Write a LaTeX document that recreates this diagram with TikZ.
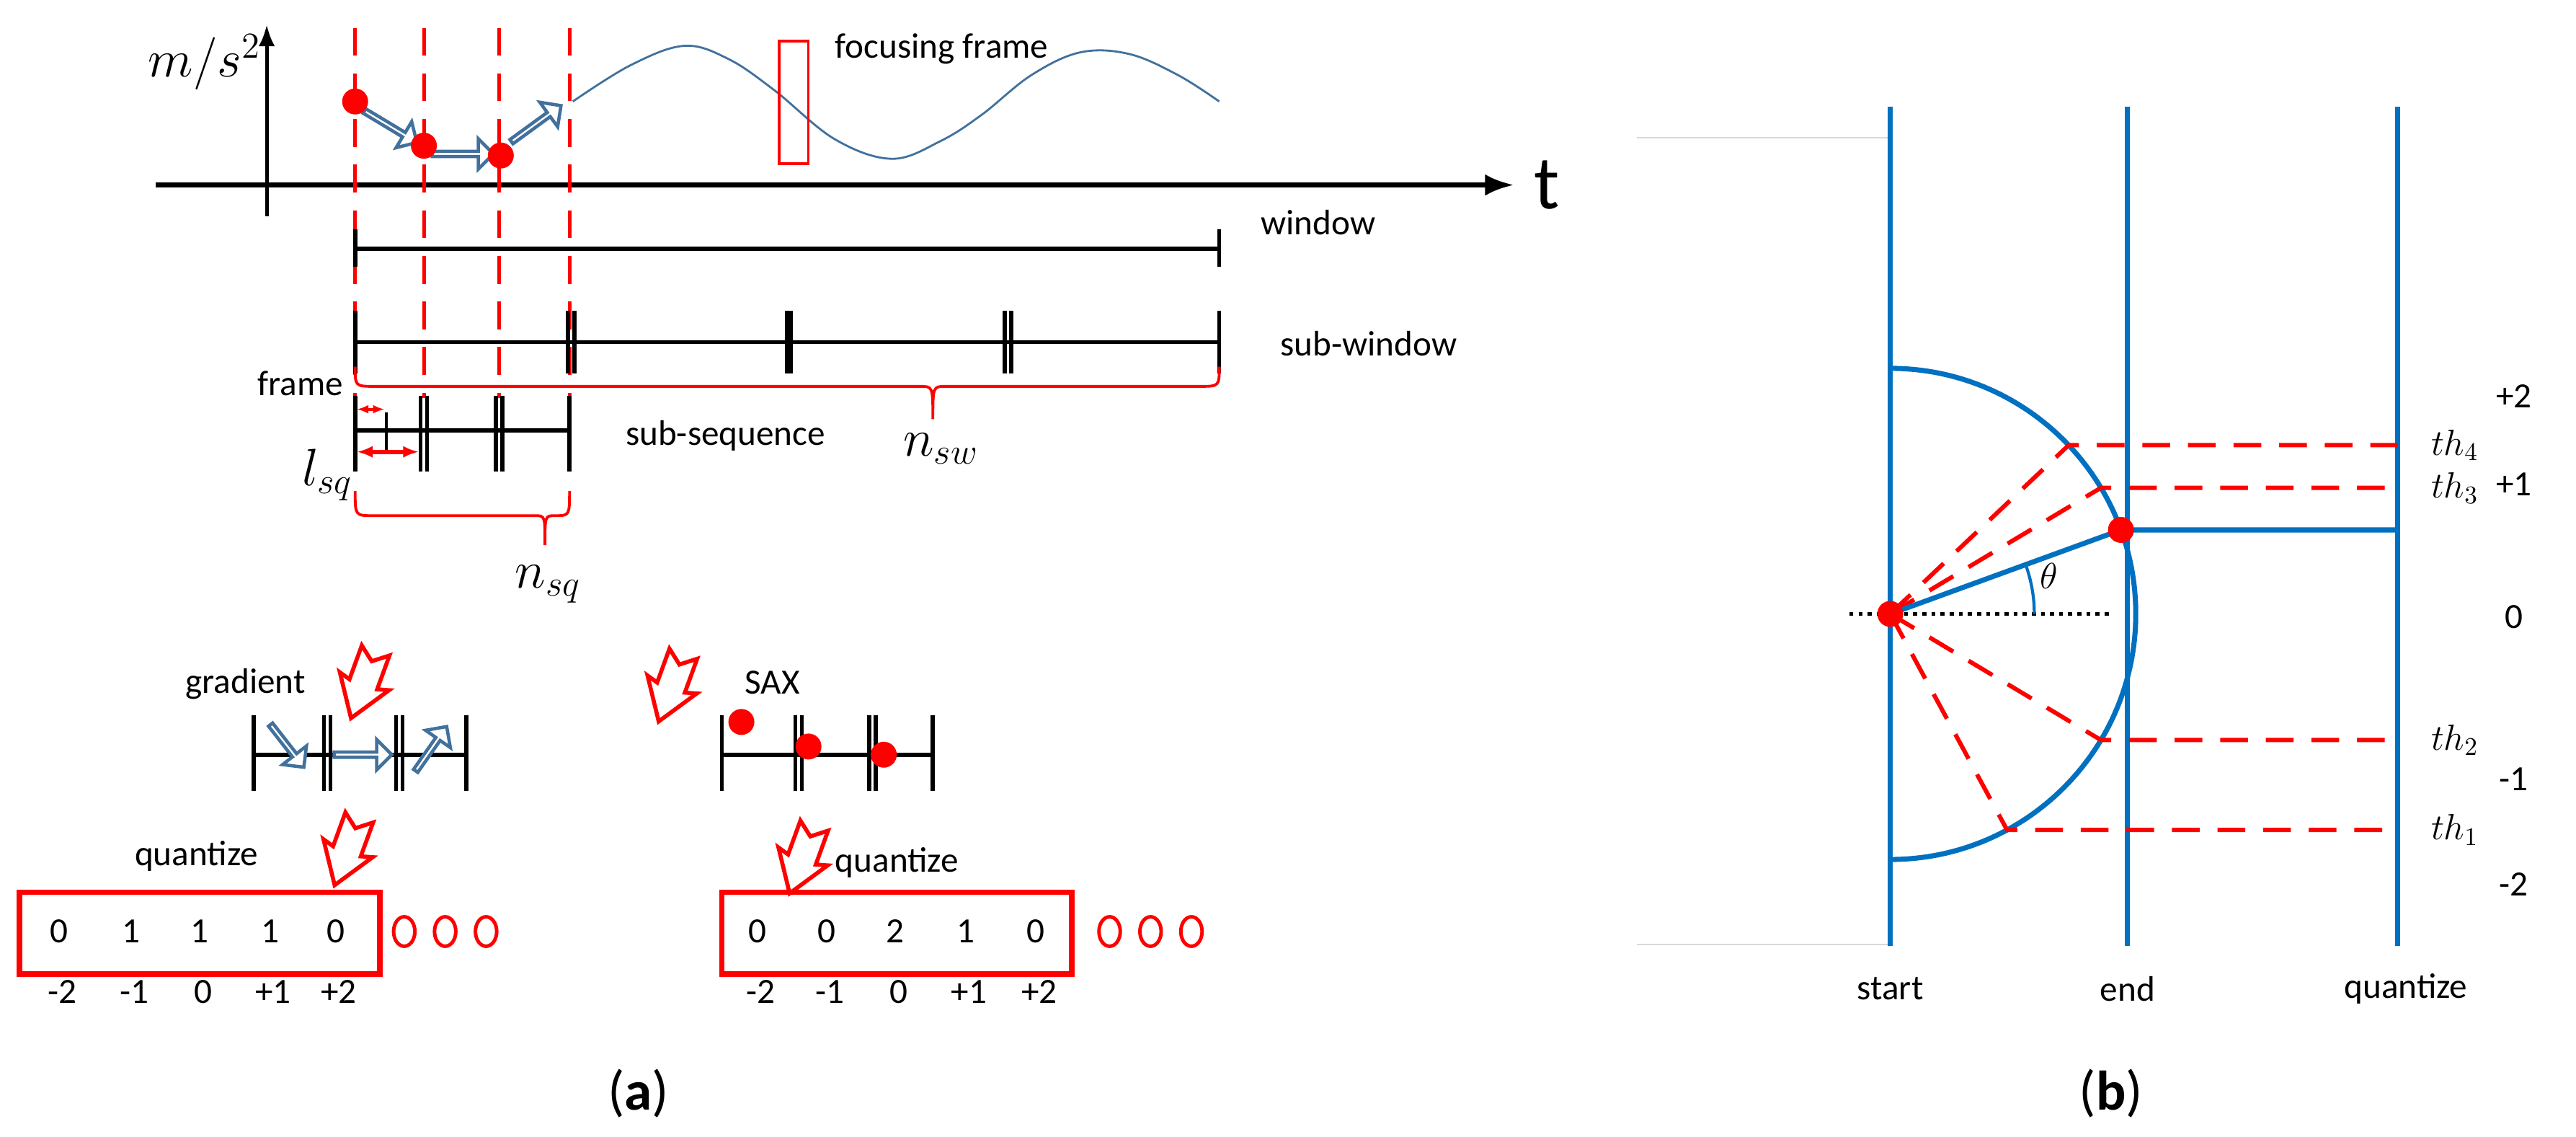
\documentclass[tikz,border=0pt]{standalone}
\usepackage{fontspec}
\setmainfont{Carlito}
\usetikzlibrary{arrows.meta,shapes.arrows}
\definecolor{ablue}{RGB}{65,113,156}
\definecolor{pblue}{RGB}{0,112,192}
\begin{document}
\begin{tikzpicture}[x=0.2271mm,y=-0.2271mm,
  txt/.style={font=\fontsize{14}{16}\selectfont,inner sep=0},
  rdash/.style={red,line width=1.4pt,dash pattern=on 11pt off 7pt},
  bar/.style={black,line width=1.6pt},
  garrow/.style={single arrow,draw=ablue,fill=white,line width=1.3pt,inner sep=0,minimum width=4.2mm,single arrow head extend=1.1mm,minimum height=8.5mm},
  rdot/.style={circle,fill=red,inner sep=0,minimum size=3.6mm},
  ring/.style={red,line width=1.4pt},
  brace/.style={red,line width=1.1pt}]
\useasboundingbox (0,0) rectangle (1574,694.5);
% axes
\draw[line width=1.4pt,-{Latex[length=3mm]}] (163,132) -- (163,15);
\draw[line width=2pt,-{Latex[length=4mm]}] (95,113) -- (925,113);
\node[font=\huge] (ms) at (125,38) {$m/s^2$};
\node[font=\fontsize{30}{30}\selectfont,inner sep=0] (t) at (945,113) {t};
% dashed lines
\foreach \x/\n in {217/d1,259/d2,305/d3,348/d4}{\draw[rdash] (\x,17) coordinate (\n) -- (\x,243);}
% signal
\draw[ablue,line width=0.8pt] plot[smooth,tension=0.6] coordinates {(350,62) (385,40) (418,28) (445,36) (473,55) (510,85) (545,97) (575,86) (600,70) (630,46) (660,32) (690,33) (720,46) (745,62)};
\draw[red,line width=1pt] (476,25) rectangle (494,100);
\node[txt,anchor=west] (ff) at (510,30) {focusing frame};
\node[garrow,rotate=-31] (ga1) at (238,77) {};
\node[garrow,rotate=0] (ga2) at (282,94) {};
\node[garrow,rotate=36] (ga3) at (327,76) {};
\node[rdot] (p1) at (217,62) {};
\node[rdot] (p2) at (259,89) {};
\node[rdot] (p3) at (306,95) {};
% window
\draw[bar] (217,152) -- (745,152);
\draw[bar] (217,140) -- (217,163) (745,140) -- (745,163);
\node[txt,anchor=west] (win) at (770,136) {window};
% sub-window
\draw[bar] (217,209) -- (745,209);
\draw[bar] (217,190) -- (217,228) (745,190) -- (745,228);
\draw[bar] (347,190) -- (347,228) (351,190) -- (351,228);
\draw[black,line width=3pt] (482,190) -- (482,228);
\draw[bar] (614,190) -- (614,228) (618,190) -- (618,228);
\node[txt,anchor=west] (sw) at (782,210) {sub-window};
\draw[brace] (217,224) .. controls (217,236) .. (229,236) -- (562,236) .. controls (570,236) .. (570,256) .. controls (570,236) .. (578,236) -- (733,236) .. controls (745,236) .. (745,224);
\node[font=\huge] (nsw) at (575,274) {$n_{sw}$};
% sub-sequence
\node[txt,anchor=east] (fr) at (210,234) {frame};
\draw[bar] (217,263) -- (348,263);
\foreach \x in {217,348}{\draw[bar] (\x,242) -- (\x,288);}
\foreach \x in {257,261,303,307}{\draw[bar] (\x,242) -- (\x,288);}
\draw[black,line width=1.2pt] (236,252) -- (236,276);
\draw[red,line width=1.2pt,{Latex[length=1.6mm]}-{Latex[length=1.6mm]}] (218,250) -- (235,250);
\draw[red,line width=1.6pt,{Latex[length=2.2mm]}-{Latex[length=2.2mm]}] (218,276) -- (256,276);
\node[font=\huge] (lsq) at (200,290) {$l_{sq}$};
\node[txt,anchor=west] (ss) at (382,266) {sub-sequence};
\draw[brace] (217,300) .. controls (217,315) .. (228,315) -- (327,315) .. controls (333,315) .. (333,333) .. controls (333,315) .. (339,315) .. controls (348,315) .. (348,300);
\node[font=\huge] (nsq) at (335,357) {$n_{sq}$};
% gradient / SAX
\node[txt] (gr) at (150,418) {gradient};
\node[txt] (sax) at (472,417) {SAX};
\foreach \n/\x/\y in {ra1/222,418/ra2/410,420/ra3/212,520/ra4/490,525}{}
\foreach \n/\x/\y in {ra1/222/418,ra2/410/420,ra3/212/520,ra4/490/525}{
  \draw[red,line width=1.6pt,fill=white,shift={(\x,\y)},rotate=-20]
    (-9,-22) -- (0,-15) -- (9,-22) -- (9,0) -- (16,-2) -- (0,22) -- (-16,-2) -- (-9,0) -- cycle;
  \coordinate (\n) at (\x,\y);}
\draw[bar] (155,461) -- (285,461);
\foreach \x in {155,198,202,242,246,285}{\draw[bar] (\x,437) -- (\x,483);}
\node[garrow,rotate=-52,minimum height=7.5mm] (gb1) at (175,455) {};
\node[garrow,minimum height=8mm] (gb2) at (221,461) {};
\node[garrow,rotate=55,minimum height=7.5mm] (gb3) at (263,458) {};
\draw[bar] (441,461) -- (570,461);
\foreach \x in {441,486,490,531,535,570}{\draw[bar] (\x,437) -- (\x,483);}
\node[rdot] (s1) at (453,441) {};
\node[rdot] (s2) at (494,456) {};
\node[rdot] (s3) at (540,461) {};
% quantize
\node[txt] (q1) at (120,523) {quantize};
\node[txt] (q2) at (548,527) {quantize};
\draw[red,line width=2.2pt] (12,545) rectangle (232,595);
\draw[red,line width=2.2pt] (441,545) rectangle (655,595);
\foreach \x/\v/\l [count=\i] in {36/0/-2,80/1/-1,122/1/0,165/1/+1,205/0/+2}{
  \node[txt] (la\i) at (\x,569) {\v};
  \node[txt] (lb\i) at (\x+2,606) {\l};}
\foreach \x/\v/\l [count=\i] in {463/0/-2,505/0/-1,547/2/0,590/1/+1,633/0/+2}{
  \node[txt] (rv\i) at (\x,569) {\v};
  \node[txt] (rb\i) at (\x+2,606) {\l};}
\foreach \x in {247,272,297,678,703,728}{\draw[ring] (\x,569) ellipse [x radius=6.5,y radius=9];}
\node[font=\fontsize{22}{24}\selectfont] (a) at (390,668) {(\textbf{a})};
\node[font=\fontsize{22}{24}\selectfont] (b) at (1290,668) {(\textbf{b})};
% right panel
\draw[black!15,line width=0.5pt] (1000,84) -- (1155,84) (1000,577) -- (1155,577);
\draw[pblue,line width=2pt] (1155,65) -- (1155,578) (1300,65) -- (1300,578) (1465,65) -- (1465,578);
\draw[black,line width=1.6pt,dotted] (1130,375) -- (1290,375);
\draw[pblue,line width=2pt] (1155,225) arc[start angle=-90,end angle=90,radius=150];
\foreach \a/\n in {43.4/e4,30.9/e3,-30.9/e2,-61.6/e1}{
  \draw[rdash,line width=1.7pt] (1155,375) -- ++(-\a:150) coordinate (\n) -- (1465,{375-150*sin(\a)});}
\draw[pblue,line width=2pt] (1155,375) -- ++(-20:150) coordinate (ep) -- (1465,{375-150*sin(20)});
\draw[pblue,line width=1.2pt] (1155,375) ++(0:88) arc[start angle=0,end angle=-20,radius=88];
\node[font=\Large] (th) at (1252,352) {$\theta$};
\node[rdot] (c0) at (1155,375) {};
\node[rdot] (c1) at (ep) {};
\foreach \y/\l in {272/4,298/3,452/2,507/1}{\node[font=\Large,anchor=west] at (1480,\y) {$th_{\l}$};}
\foreach \y/\l in {242/+2,296/+1,377/0,476/-1,540/-2}{\node[txt] at (1536,\y) {\l};}
\node[txt] (st) at (1155,604) {start};
\node[txt] (en) at (1300,604) {end};
\node[txt] (qz) at (1470,604) {quantize};
\end{tikzpicture}
\end{document}
